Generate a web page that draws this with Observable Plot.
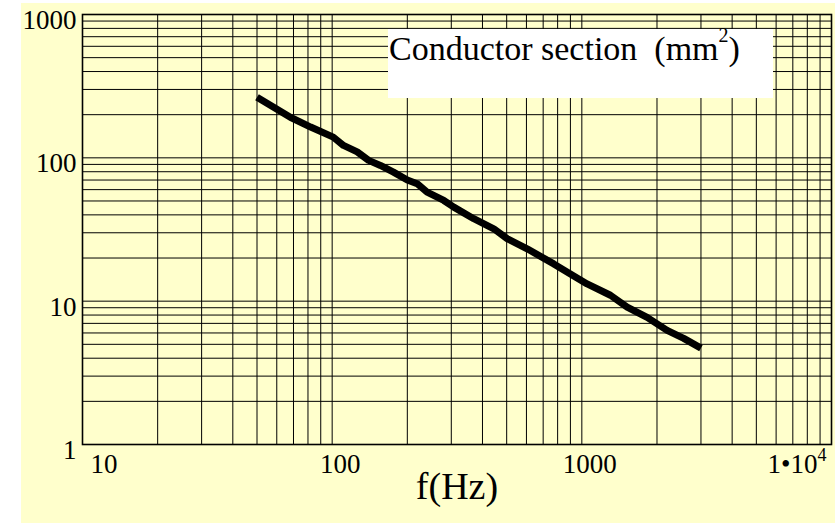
<!DOCTYPE html>
<html>
<head>
<meta charset="utf-8">
<script src="https://cdn.jsdelivr.net/npm/d3@7"></script>
<script src="https://cdn.jsdelivr.net/npm/@observablehq/plot@0.6"></script>
<style>
  html, body { margin: 0; padding: 0; background: #ffffff; }
  #panel {
    position: absolute; left: 21px; top: 3px; width: 814px; height: 520px;
    background: #ffffcc;
    font-family: "Liberation Serif", "Times New Roman", serif;
  }
  #note {
    position: absolute; left: 367px; top: 26px; width: 385px; height: 69px;
    background: #ffffff; box-sizing: border-box; padding: 3px 0 0 1px;
    font-size: 34px; line-height: 34px; white-space: pre; color: #000;
  }
  #note sup { font-size: 20px; line-height: 0; vertical-align: baseline; position: relative; top: -18px; }
</style>
</head>
<body>
<div id="panel">
  <div id="chart"></div>
  <div id="note">Conductor section  (mm<sup>2</sup>)</div>
</div>
<script>
// Required conductor section (mm²) against frequency (Hz)
const freq    = [50, 68, 82, 101, 111, 126, 140, 156, 176, 200, 219, 240, 280, 307, 369, 444, 502, 604, 772, 900, 1050, 1302, 1519, 1826, 2196, 2559, 3000];
const section = [265, 192, 164, 139.5, 122, 110, 96, 88.5, 79.5, 70, 66, 57.6, 50.4, 45.3, 37.6, 32, 27.3, 23.2, 18.2, 15.5, 13.2, 11, 9.1, 7.7, 6.25, 5.5, 4.7];

// Axis extents and tick labels
const xDomain = [10, 10000];
const yDomain = [1, 1000];
const xTicks = [10, 100, 1000, 10000];
const xTickLabels = ["10", "100", "1000", "1•10"];
const xExponent = "4";
const yTicks = [1, 10, 100, 1000];
const yTickLabels = ["1", "10", "100", "1000"];
const xLabel = "f(Hz)";

const curve = freq.map((f, i) => ({f, a: section[i]}));

// Full log grid: every integer multiple within each decade
const xGrid = d3.scaleLog().domain(xDomain).ticks();
const yGrid = d3.scaleLog().domain(yDomain).ticks();

const serif = "Liberation Serif, Times New Roman, serif";
const tickSize = 27;

const chart = Plot.plot({
  width: 814,
  height: 520,
  marginLeft: 61,
  marginRight: 4,
  marginTop: 11,
  marginBottom: 79,
  style: {background: "transparent", fontFamily: serif, color: "#000", overflow: "visible"},
  x: {type: "log", domain: xDomain, axis: null},
  y: {type: "log", domain: yDomain, axis: null},
  marks: [
    Plot.ruleX(xGrid, {x: d => d, stroke: "#000", strokeWidth: 1}),
    Plot.ruleY(yGrid, {y: d => d, stroke: "#000", strokeWidth: 1}),
    Plot.frame({stroke: "#000", strokeWidth: 1.6}),
    Plot.line(curve, {x: "f", y: "a", stroke: "#000", strokeWidth: 7, strokeLinecap: "butt", strokeLinejoin: "round"}),
    // y tick labels
    Plot.text(yTicks, {y: d => d, text: (d, i) => yTickLabels[i], frameAnchor: "left",
      textAnchor: "end", dx: -6, dy: 6, fontSize: tickSize, fill: "#000"}),
    // x tick labels: first pushed clear of the y axis, last kept inside the panel
    Plot.text(xTicks.slice(0, 1), {x: d => d, text: (d, i) => xTickLabels[i], frameAnchor: "bottom",
      textAnchor: "start", dx: 8, dy: 28, fontSize: tickSize, fill: "#000"}),
    Plot.text(xTicks.slice(1, 3), {x: d => d, text: (d, i) => xTickLabels[i + 1], frameAnchor: "bottom",
      textAnchor: "middle", dx: 8, dy: 28, fontSize: tickSize, fill: "#000"}),
    Plot.text(xTicks.slice(3), {x: d => d, text: (d, i) => xTickLabels[i + 3], frameAnchor: "bottom",
      textAnchor: "end", dx: -14, dy: 28, fontSize: tickSize, fill: "#000"}),
    Plot.text(xTicks.slice(3), {x: d => d, text: () => xExponent, frameAnchor: "bottom",
      textAnchor: "start", dx: -14, dy: 16, fontSize: 18, fill: "#000"}),
    // x axis title
    Plot.text([xLabel], {frameAnchor: "bottom", dy: 54, fontSize: 38, fill: "#000"})
  ]
});

document.getElementById("chart").append(chart);
</script>
</body>
</html>
